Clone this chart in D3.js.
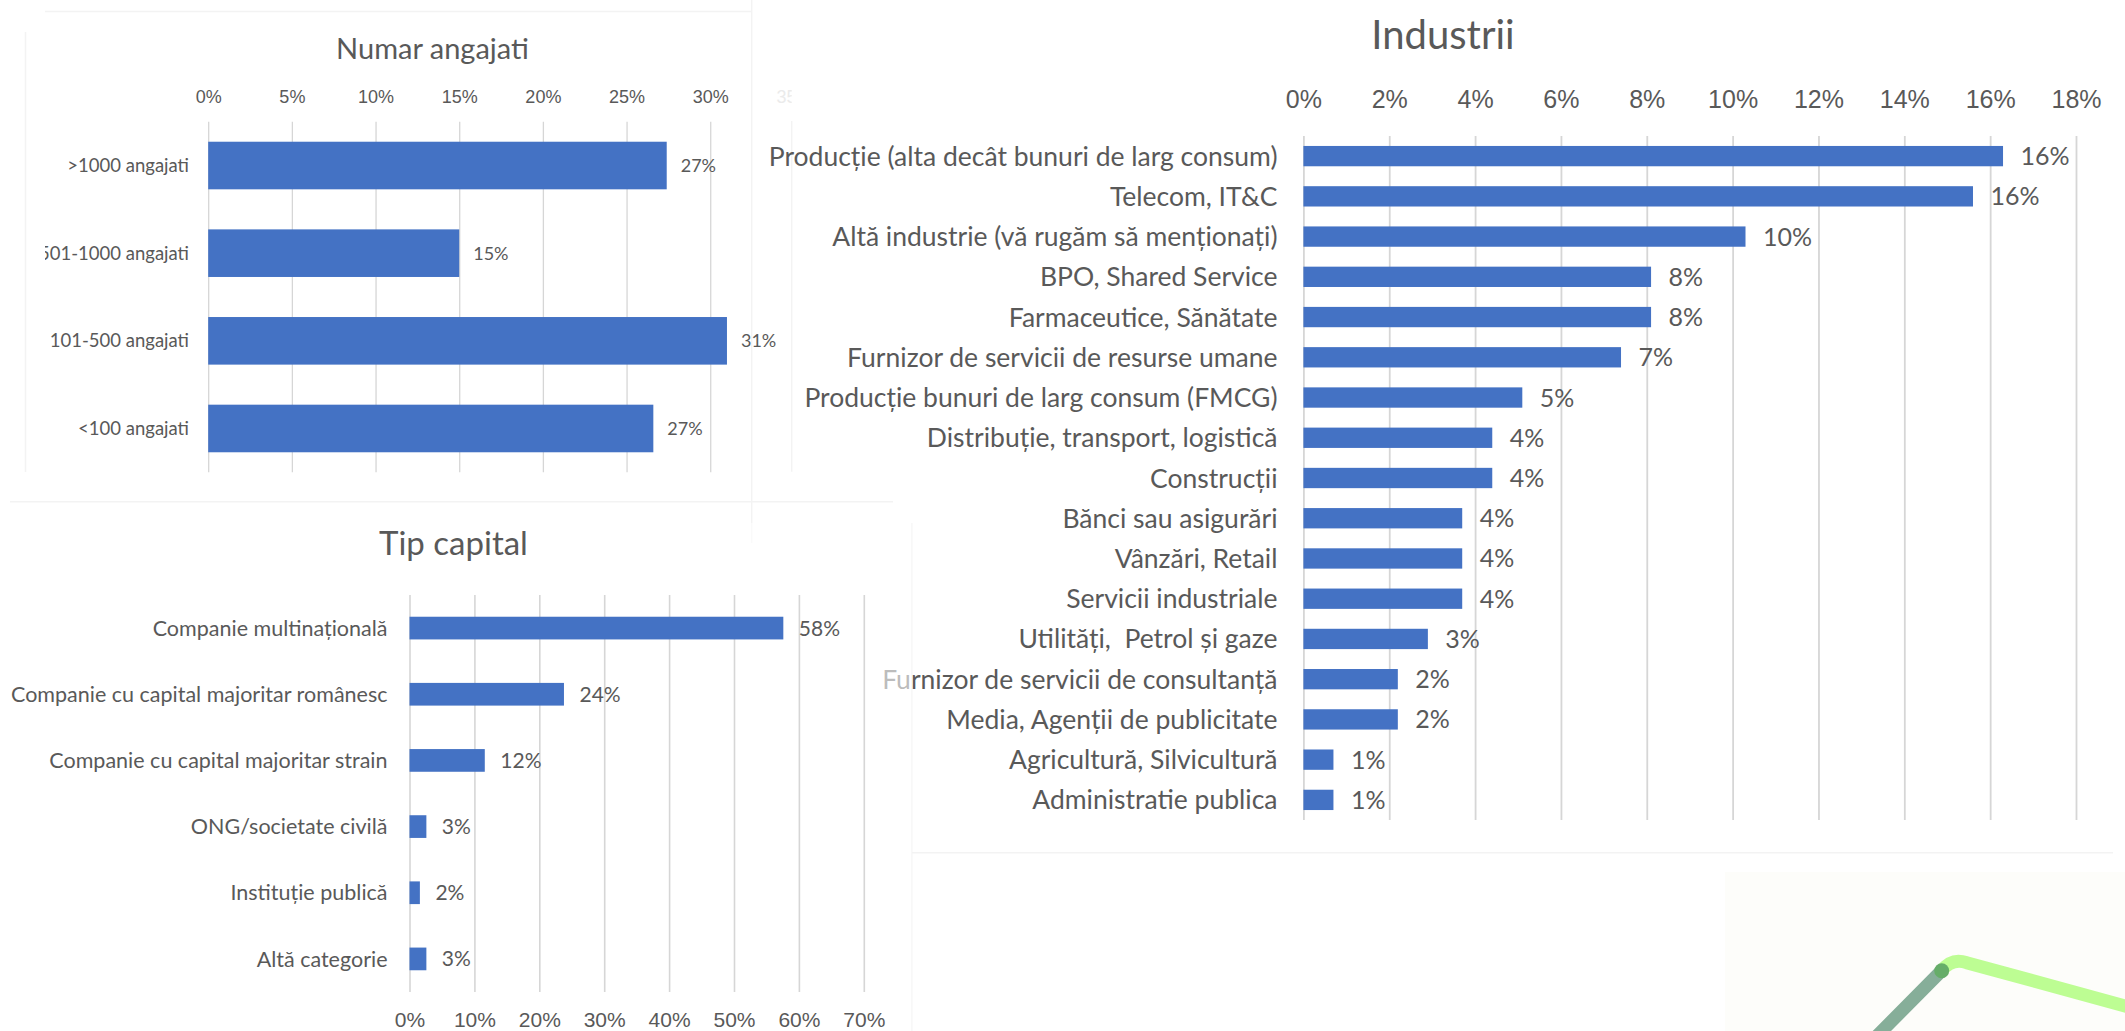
<!DOCTYPE html>
<html>
<head>
<meta charset="utf-8">
<script src="https://cdn.jsdelivr.net/npm/d3@7"></script>
<style>
  html, body { margin: 0; padding: 0; background: #ffffff; }
  svg { display: block; font-family: Lato, "Open Sans", sans-serif; }
  text { white-space: pre; }
</style>
</head>
<body>
<svg id="board" width="2125" height="1031"></svg>
<script>
// ---- Numar angajati ----
const sizeCategories = [">1000 angajati", "501-1000 angajati", "101-500 angajati", "<100 angajati"];
const sizeValues = [0.274, 0.150, 0.310, 0.266];
const sizeTicks = [0, 0.05, 0.10, 0.15, 0.20, 0.25, 0.30, 0.35];

// ---- Tip capital ----
const capitalCategories = [
  "Companie multinațională",
  "Companie cu capital majoritar românesc",
  "Companie cu capital majoritar strain",
  "ONG/societate civilă",
  "Instituție publică",
  "Altă categorie"
];
const capitalValues = [0.576, 0.238, 0.116, 0.026, 0.016, 0.026];
const capitalTicks = [0, 0.1, 0.2, 0.3, 0.4, 0.5, 0.6, 0.7];

// ---- Industrii ----
const industryCategories = [
  "Producție (alta decât bunuri de larg consum)",
  "Telecom, IT&C",
  "Altă industrie (vă rugăm să menționați)",
  "BPO, Shared Service",
  "Farmaceutice, Sănătate",
  "Furnizor de servicii de resurse umane",
  "Producție bunuri de larg consum (FMCG)",
  "Distribuție, transport, logistică",
  "Construcții",
  "Bănci sau asigurări",
  "Vânzări, Retail",
  "Servicii industriale",
  "Utilități,  Petrol și gaze",
  "Furnizor de servicii de consultanță",
  "Media, Agenții de publicitate",
  "Agricultură, Silvicultură",
  "Administratie publica"
];
const industryValues = [0.163, 0.156, 0.103, 0.081, 0.081, 0.074, 0.051, 0.044, 0.044,
                        0.037, 0.037, 0.037, 0.029, 0.022, 0.022, 0.007, 0.007];
const industryTicks = [0, 0.02, 0.04, 0.06, 0.08, 0.10, 0.12, 0.14, 0.16, 0.18];

const pct = d3.format(".0%");
const BAR = "#4472C4", TEXT = "#595959", GRID = "#d6d6d6";
const svg = d3.select("#board");
const defs = svg.append("defs");

// faint slide panel edges
const frames = svg.append("g").attr("stroke", "#f3f3f3").attr("stroke-width", 1.5);
[[45, 11.5, 752, 11.5], [25.5, 32, 25.5, 472], [10, 501.7, 893, 501.7],
 [751.7, 0, 751.7, 543], [791.7, 121, 791.7, 471.7], [911.7, 523, 911.7, 1031],
 [912, 852.7, 2113, 852.7]].forEach(([x1, y1, x2, y2]) =>
  frames.append("line").attr("x1", x1).attr("y1", y1).attr("x2", x2).attr("y2", y2));

// bottom-right corner panel with the green accent strokes
svg.append("rect").attr("x", 1725).attr("y", 872).attr("width", 400).attr("height", 159).attr("fill", "#fdfdfa");

function barChart(g, o) {
  const x = d3.scaleLinear().domain(o.domain).range(o.xRange);
  const y = d3.scaleBand().domain(o.categories).range(o.yRange)
    .paddingInner(o.pad).paddingOuter(o.pad / 2);

  // vertical gridlines
  g.append("g")
    .attr("transform", `translate(0,${o.yRange[0]})`)
    .call(d3.axisBottom(x).tickValues(o.gridTicks).tickSize(o.yRange[1] - o.yRange[0]).tickFormat(""))
    .call(a => a.select(".domain").remove())
    .call(a => a.selectAll("line").attr("stroke", GRID).attr("stroke-width", o.gridWidth));

  // percentage tick labels
  const axis = o.ticksBelow ? d3.axisBottom(x) : d3.axisTop(x);
  g.append("g")
    .attr("transform", `translate(0,${o.tickY})`)
    .attr("font-family", null).attr("font-size", null)
    .call(axis.tickValues(o.ticks).tickFormat(pct).tickSize(0).tickPadding(0))
    .call(a => a.select(".domain").remove())
    .call(a => a.selectAll("text")
      .attr("y", 0).attr("dy", "0.36em")
      .attr("fill", d => d > o.gridTicks[o.gridTicks.length - 1] ? "#ebebeb" : TEXT)
      .style("font-size", o.tickFont + "px"));

  const rows = o.categories.map((c, i) => ({ c, v: o.values[i] }));

  // bars
  g.append("g").selectAll("rect").data(rows).join("rect")
    .attr("x", x(0))
    .attr("y", d => y(d.c))
    .attr("width", d => x(d.v) - x(0))
    .attr("height", y.bandwidth())
    .attr("fill", BAR);

  // value labels
  g.append("g").selectAll("text").data(rows).join("text")
    .attr("x", d => x(d.v) + o.valueGap)
    .attr("y", d => y(d.c) + y.bandwidth() / 2)
    .attr("dy", "0.36em")
    .attr("fill", TEXT)
    .style("font-size", o.valueFont + "px")
    .text(d => pct(d.v));

  // category labels
  g.append("g").selectAll("text").data(rows).join("text")
    .attr("x", o.labelX)
    .attr("y", d => y(d.c) + y.bandwidth() / 2)
    .attr("dy", "0.36em")
    .attr("text-anchor", "end")
    .attr("fill", TEXT)
    .style("font-size", o.labelFont + "px")
    .text(d => d.c);

  // title
  g.append("text")
    .attr("x", o.titleX).attr("y", o.titleY)
    .attr("text-anchor", "middle")
    .attr("fill", TEXT)
    .style("font-size", o.titleFont + "px")
    .text(o.title);
}

// Industrii
barChart(svg.append("g"), {
  title: "Industrii", titleX: 1443, titleY: 48.5, titleFont: 40,
  categories: industryCategories, values: industryValues,
  domain: [0, 0.18], xRange: [1303.4, 2076], yRange: [136, 820], pad: 0.495,
  ticks: industryTicks, gridTicks: industryTicks, gridWidth: 1.8,
  tickY: 99, tickFont: 25, labelX: 1277.5, labelFont: 26.5, valueGap: 17.5, valueFont: 25
});

// left-hand slide panel veils whatever reaches under it
svg.append("rect").attr("x", 0).attr("y", 523).attr("width", 911.7).attr("height", 508)
  .attr("fill", "#ffffff").attr("opacity", 0.6);

// Numar angajati, clipped to its panel
defs.append("clipPath").attr("id", "sizeClip")
  .append("rect").attr("x", 45).attr("y", 0).attr("width", 791.7 - 45).attr("height", 502);
barChart(svg.append("g").attr("clip-path", "url(#sizeClip)"), {
  title: "Numar angajati", titleX: 432.5, titleY: 59, titleFont: 29,
  categories: sizeCategories, values: sizeValues,
  domain: [0, 0.35], xRange: [208.2, 793.9], yRange: [121.7, 472.3], pad: 0.457,
  ticks: sizeTicks, gridTicks: sizeTicks.slice(0, 7), gridWidth: 1.3,
  tickY: 96.7, tickFont: 18, labelX: 189, labelFont: 18.5, valueGap: 14, valueFont: 18
});

// Tip capital
barChart(svg.append("g"), {
  title: "Tip capital", titleX: 453.5, titleY: 554.5, titleFont: 33,
  categories: capitalCategories, values: capitalValues,
  domain: [0, 0.7], xRange: [409.5, 863.8], yRange: [595, 992], pad: 0.657,
  ticks: capitalTicks, gridTicks: capitalTicks, gridWidth: 1.6, ticksBelow: true,
  tickY: 1019, tickFont: 21, labelX: 387.5, labelFont: 21.5, valueGap: 15.5, valueFont: 21
});

// green accent strokes
const accent = svg.append("g").attr("fill", "none").attr("stroke-linecap", "round");
accent.append("path")
  .attr("d", "M1941.7,970.7 Q1952,957.5 1966.7,962.7 L2140,1010")
  .attr("stroke", "#bdfd93").attr("stroke-width", 13);
accent.append("path")
  .attr("d", "M1941.7,970.7 L1868,1045")
  .attr("stroke", "#86ae99").attr("stroke-width", 13);
svg.append("circle").attr("cx", 1941.7).attr("cy", 970.7).attr("r", 7.5).attr("fill", "#66ad69");
</script>
</body>
</html>
